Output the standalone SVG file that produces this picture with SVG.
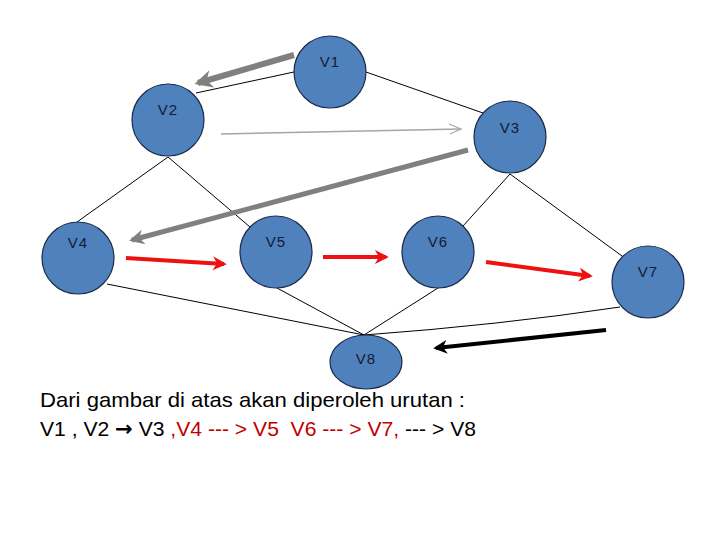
<svg xmlns="http://www.w3.org/2000/svg" width="720" height="540" viewBox="0 0 720 540">
<defs>
<style>
.node{fill:#4f81bd;stroke:#1c2b4a;stroke-width:1.2}
.lbl{font-family:"Liberation Sans",Arial,sans-serif;font-size:15px;fill:#141a33;text-anchor:middle;letter-spacing:1px}
.edge{stroke:#000;stroke-width:1;fill:none}
.txt{font-family:"Liberation Sans",Arial,sans-serif;font-size:21px;fill:#000;white-space:pre}
.arw{font-family:"DejaVu Sans",sans-serif;font-weight:bold}
</style>
<marker id="hg" viewBox="0 0 10 10" refX="8" refY="5" markerWidth="3" markerHeight="3.2" orient="auto" markerUnits="strokeWidth">
<path d="M0,0 L10,5 L0,10 L3,5 Z" fill="#808080"/>
</marker>
<marker id="hr" viewBox="0 0 10 10" refX="8" refY="5" markerWidth="3.5" markerHeight="3.5" orient="auto" markerUnits="strokeWidth">
<path d="M0,0 L10,5 L0,10 L3,5 Z" fill="#ee1111"/>
</marker>
<marker id="hk" viewBox="0 0 10 10" refX="8" refY="5" markerWidth="3.5" markerHeight="3.5" orient="auto" markerUnits="strokeWidth">
<path d="M0,0 L10,5 L0,10 L3,5 Z" fill="#000"/>
</marker>
</defs>
<rect width="720" height="540" fill="#fff"/>
<g id="connectors">
<line class="edge" x1="294" y1="72" x2="196" y2="93"/>
<line class="edge" x1="366" y1="72" x2="483" y2="113"/>
<line class="edge" x1="168" y1="157" x2="77" y2="222"/>
<line class="edge" x1="168" y1="157" x2="250" y2="227"/>
<line class="edge" x1="510" y1="174" x2="463" y2="226"/>
<line class="edge" x1="510" y1="174" x2="622" y2="256"/>
<line class="edge" x1="107" y1="284" x2="364" y2="335"/>
<line class="edge" x1="277" y1="288" x2="364" y2="335"/>
<line class="edge" x1="438" y1="288" x2="364" y2="335"/>
<path class="edge" d="M620,307 Q500,325 364,335"/>
</g>
<g id="arrows">
<line x1="294" y1="55" x2="198" y2="83" stroke="#808080" stroke-width="6" marker-end="url(#hg)"/>
<line x1="221" y1="134" x2="461" y2="129" stroke="#a6a6a6" stroke-width="1.5"/>
<path d="M449,124 L461,129 L450,134" stroke="#a6a6a6" stroke-width="1.2" fill="none"/>
<line x1="468" y1="150" x2="132" y2="240" stroke="#808080" stroke-width="5" marker-end="url(#hg)"/>
<line x1="126" y1="258" x2="224" y2="264" stroke="#ee1111" stroke-width="4" marker-end="url(#hr)"/>
<line x1="323" y1="257" x2="386" y2="257" stroke="#ee1111" stroke-width="4" marker-end="url(#hr)"/>
<line x1="486" y1="262" x2="590" y2="276" stroke="#ee1111" stroke-width="4" marker-end="url(#hr)"/>
<line x1="606" y1="330" x2="436" y2="348" stroke="#000" stroke-width="4" marker-end="url(#hk)"/>
</g>
<g id="V1"><circle class="node" cx="330" cy="72" r="36"/><text class="lbl" x="330" y="67">V1</text></g>
<g id="V2"><circle class="node" cx="168" cy="120" r="36"/><text class="lbl" x="168" y="115">V2</text></g>
<g id="V3"><circle class="node" cx="510" cy="137" r="36"/><text class="lbl" x="510" y="133">V3</text></g>
<g id="V4"><circle class="node" cx="78" cy="258" r="36"/><text class="lbl" x="78" y="248">V4</text></g>
<g id="V5"><circle class="node" cx="276" cy="252" r="36"/><text class="lbl" x="276" y="247">V5</text></g>
<g id="V6"><circle class="node" cx="438" cy="252" r="36"/><text class="lbl" x="438" y="247">V6</text></g>
<g id="V7"><circle class="node" cx="648" cy="282" r="36"/><text class="lbl" x="648" y="277">V7</text></g>
<g id="V8"><ellipse class="node" cx="366" cy="362" rx="36" ry="27"/><text class="lbl" x="366" y="364">V8</text></g>
<g id="caption">
<text class="txt" x="40" y="407" textLength="425" lengthAdjust="spacingAndGlyphs">Dari gambar di atas akan diperoleh urutan :</text>
<text class="txt" x="40" y="436" textLength="436" lengthAdjust="spacingAndGlyphs">V1 , V2 <tspan class="arw">→</tspan> V3 <tspan fill="#c00000">,V4 --- &gt; V5  V6 --- &gt; V7,</tspan> --- &gt; V8</text>
</g>
</svg>
